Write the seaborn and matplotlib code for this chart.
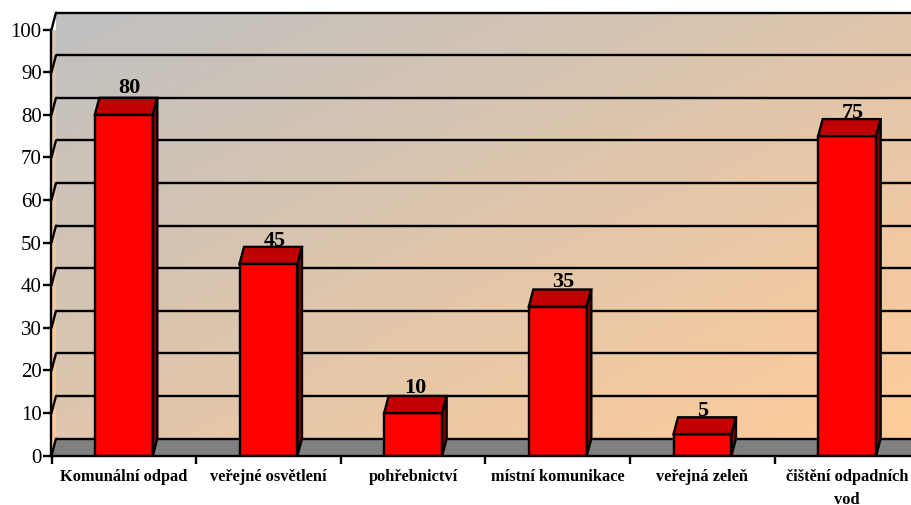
import numpy as np
import pandas as pd
import matplotlib
matplotlib.use("Agg")
import matplotlib.pyplot as plt
from matplotlib.colors import LinearSegmentedColormap
from matplotlib.patches import Polygon
from matplotlib.transforms import ScaledTranslation
import seaborn as sns

categories = ["Komunální odpad", "veřejné osvětlení", "pohřebnictví",
              "místní komunikace", "veřejná zeleň", "čištění odpadních\nvod"]
values = [80, 45, 10, 35, 5, 75]
y_ticks = list(range(0, 101, 10))

sns.set_theme(style="white")
plt.rcParams["font.family"] = ["Liberation Serif", "DejaVu Serif"]

W, H = 912, 505
fig = plt.figure(figsize=(W / 100, H / 100), dpi=100, facecolor="white")
ax = fig.add_axes([51.5 / W, (H - 455.6) / H, 868 / W, 426 / H])

df = pd.DataFrame({"cat": categories, "val": values})
BAR_W = 58 / 144.7
DX, DY = 4.5 / 144.7, 17 / 4.26
LW = 1.7
X0, X1, Y1 = -0.5, 5.5, 100
# label nudges in points, as the source places them slightly unevenly
label_nudge = [(2.5, 3.2), (3, 0.5), (0, 2), (2.5, 2), (-1.5, 1.2), (2.5, 0.5)]

sns.barplot(data=df, x="cat", y="val", ax=ax, color="#FF0000", saturation=1,
            width=BAR_W, edgecolor="black", linewidth=LW, zorder=4)
ax.set_xlim(X0, X1)
ax.set_ylim(0, Y1)
ax.set_xlabel("")
ax.set_ylabel("")

# diagonal gradient of the back wall
cmap = LinearSegmentedColormap.from_list("wall", ["#C0C0C0", "#FFCC99"])
gx, gy = np.meshgrid(np.linspace(0, 1, 200), np.linspace(0, 1, 200))
im = ax.imshow((gx + gy) / 2, extent=(X0 + DX, X1, DY, 100 + DY), cmap=cmap,
               vmin=0, vmax=1, aspect="auto", zorder=0, interpolation="bilinear")
im.set_clip_on(False)

# side wall
side = ax.imshow(gy * 0.6 + 0.4, extent=(X0, X0 + DX, 0, 100 + DY), cmap=cmap,
                 vmin=0, vmax=1, aspect="auto", zorder=0.5, interpolation="bilinear")
clip = Polygon([(X0, 0), (X0 + DX, DY), (X0 + DX, 100 + DY), (X0, 100)],
               transform=ax.transData, facecolor="none", edgecolor="none")
ax.add_patch(clip)
side.set_clip_path(clip)

# floor
ax.add_patch(Polygon([(X0, 0), (X0 + DX, DY), (X1 + DX, DY), (X1, 0)], closed=True,
                     facecolor="#808080", edgecolor="none", zorder=1, clip_on=False))
ax.set_xlim(X0, X1)
ax.set_ylim(0, Y1)

# grid on the walls
for v in y_ticks:
    ax.plot([X0 + DX, X1 + DX], [v + DY, v + DY], color="black", lw=LW, zorder=2,
            clip_on=False, solid_capstyle="butt")
    ax.plot([X0, X0 + DX], [v, v + DY], color="black", lw=LW, zorder=2, clip_on=False)

# bar depth faces and value labels
for i, v in enumerate(values):
    l, r = i - BAR_W / 2, i + BAR_W / 2
    ax.add_patch(Polygon([(l, v), (l + DX, v + DY), (r + DX, v + DY), (r, v)], closed=True,
                         facecolor="#C00000", edgecolor="black", lw=LW, zorder=5,
                         joinstyle="miter", clip_on=False))
    ax.add_patch(Polygon([(r, 0), (r + DX, DY), (r + DX, v + DY), (r, v)], closed=True,
                         facecolor="#800000", edgecolor="black", lw=LW, zorder=5,
                         joinstyle="miter", clip_on=False))
    ax.annotate(str(v), (i + DX / 2, v + DY), xytext=label_nudge[i], textcoords="offset points",
                ha="center", va="baseline", fontsize=16, fontweight="bold",
                color="black", zorder=3, annotation_clip=False)

for s in ("top", "right"):
    ax.spines[s].set_visible(False)
for s in ("left", "bottom"):
    ax.spines[s].set_visible(True)
    ax.spines[s].set_color("black")
    ax.spines[s].set_linewidth(LW)
    ax.spines[s].set_zorder(6)

ax.set_yticks(y_ticks)
ax.tick_params(axis="y", which="major", left=True, length=6, width=LW, color="black",
               labelsize=15, labelcolor="black", pad=1)
ax.set_xticks(range(len(categories)))
ax.set_xticklabels(categories, fontsize=11.8, fontweight="bold", color="black",
                   linespacing=1.6)
ax.set_xticks(np.arange(X0, X1 + 0.5, 1), minor=True)
ax.tick_params(axis="x", which="major", bottom=False, length=0, pad=9.5)
ax.tick_params(axis="x", which="minor", bottom=True, length=6, width=LW, color="black")
ax.set_xlim(X0, X1)
ax.set_ylim(0, Y1)

fig.savefig("out.png", dpi=100, facecolor="white")
